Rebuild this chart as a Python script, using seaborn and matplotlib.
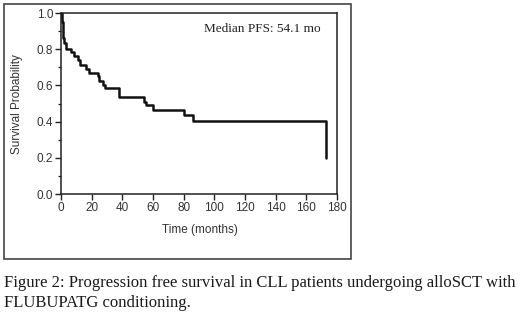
import matplotlib
matplotlib.use("Agg")
import matplotlib.pyplot as plt
import matplotlib.patches as patches
import seaborn as sns
import pandas as pd

# Kaplan-Meier step data
time_months = [0, 0.5, 1.0, 1.5, 2.0, 3.3, 6.5, 8.7, 10.9, 12.4, 16.3, 18.5, 23.9,
               25.0, 27.2, 28.7, 37.6, 54.1, 55.5, 60.2, 80.2, 85.9, 172.6, 172.6]
survival = [1.0, 0.95, 0.90, 0.86, 0.834, 0.80, 0.783, 0.764, 0.742, 0.714, 0.69,
            0.668, 0.65, 0.622, 0.60, 0.585, 0.534, 0.51, 0.49, 0.464, 0.436, 0.403,
            0.403, 0.20]
x_ticks = [0, 20, 40, 60, 80, 100, 120, 140, 160, 180]
y_ticks = [0.0, 0.2, 0.4, 0.6, 0.8, 1.0]
y_minor = [0.1, 0.3, 0.5, 0.7, 0.9]

sns.set_style("ticks")
plt.rcParams['font.family'] = ['Liberation Sans', 'DejaVu Sans']

W, H = 520, 323
fig = plt.figure(figsize=(W / 100, H / 100), dpi=100)
fig.patch.set_facecolor("white")

L, R, T, B = 61, 337, 13, 194
ax = fig.add_axes([L / W, 1 - B / H, (R - L) / W, (B - T) / H])

df = pd.DataFrame({"t": time_months, "s": survival})
sns.lineplot(data=df, x="t", y="s", ax=ax, estimator=None, sort=False,
             drawstyle="steps-post", color="#111111", linewidth=1.8)

ax.set_xlim(0, 180)
ax.set_ylim(0, 1.0)
ax.set_xticks(x_ticks)
ax.set_xticklabels([str(v) for v in x_ticks])
ax.set_yticks(y_ticks)
ax.set_yticklabels([f"{v:.1f}" for v in y_ticks])
ax.set_yticks(y_minor, minor=True)
ax.tick_params(axis="both", which="major", direction="out", length=4, width=1.0,
               labelsize=8.5, labelcolor="#333333", color="#222222", pad=1.5)
ax.tick_params(axis="y", which="minor", direction="out", length=2.5, width=0.9,
               color="#222222")
for sp in ax.spines.values():
    sp.set_visible(True)
    sp.set_linewidth(1.1)
    sp.set_color("#222222")
ax.set_xlabel("")
ax.set_ylabel("")

fig.text(17 / W, 1 - 104 / H, "Survival Probability", rotation=90, ha="center",
         va="center", fontsize=8.5, color="#333333")
fig.text(200 / W, 1 - 230 / H, "Time (months)", ha="center", va="center",
         fontsize=8.5, color="#333333")

fig.text(262 / W, 1 - 29 / H, "Median PFS: 54.1 mo", ha="center", va="center",
         fontsize=9.5, color="#222222", family=["Liberation Serif", "DejaVu Serif"])

fig.patches.append(patches.Rectangle((4 / W, 1 - 259 / H), 347 / W, 255 / H,
                                     transform=fig.transFigure, fill=False,
                                     linewidth=1.2, edgecolor="#444444"))

cap_font = ["Liberation Serif", "DejaVu Serif"]
fig.text(4 / W, 1 - 283 / H,
         "Figure 2: Progression free survival in CLL patients undergoing alloSCT with",
         ha="left", va="center", fontsize=12, color="#1a1a1a", family=cap_font)
fig.text(4 / W, 1 - 303 / H, "FLUBUPATG conditioning.", ha="left", va="center",
         fontsize=12, color="#1a1a1a", family=cap_font)

fig.savefig("out.png", dpi=100, facecolor="white")
